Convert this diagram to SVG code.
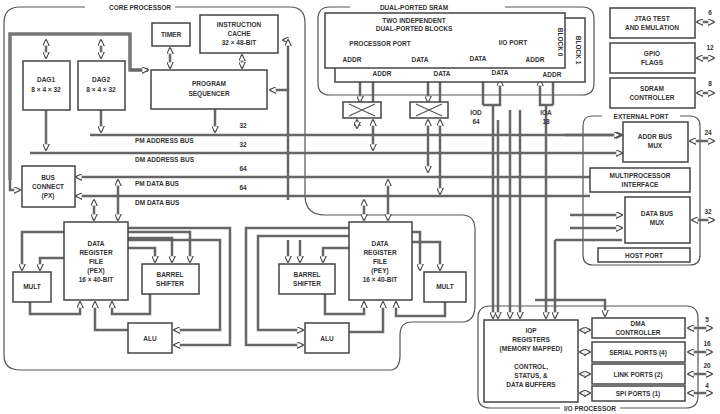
<svg xmlns="http://www.w3.org/2000/svg" width="720" height="414" viewBox="0 0 720 414">
<defs>
<marker id="a" viewBox="0 0 10 10" refX="9" refY="5" markerWidth="7" markerHeight="7" orient="auto-start-reverse" markerUnits="userSpaceOnUse"><path d="M0,0 L10,5 L0,10 Z" fill="#fff" stroke="#444" stroke-width="1.5"/></marker>
<style>
.b{fill:#fff;stroke:#444;stroke-width:1.5}
.o{fill:none;stroke:#555;stroke-width:1.2}
.t{font-family:"Liberation Sans",Arial,sans-serif;font-size:6.5px;font-weight:bold;fill:#333;text-anchor:middle}
.l{font-family:"Liberation Sans",Arial,sans-serif;font-size:6.5px;font-weight:bold;fill:#333}
.w{fill:none;stroke:#777;stroke-width:3.5}
.c{fill:none;stroke:#666;stroke-width:2.5;marker-end:url(#a)}
.d{fill:none;stroke:#666;stroke-width:2.5;marker-end:url(#a);marker-start:url(#a)}
</style>
</defs>
<rect width="720" height="414" fill="#fff"/>
<g id="outlines">
<path class="o" d="M85,7 H20 Q4,7 4,23 V355 Q4,370 20,370 H390 Q400,370 400,355 V335 Q400,322 412,322 H462 Q475,322 475,305 V230 Q475,215 462,215 H325 Q305,215 305,195 V23 Q305,7 290,7 H175"/>
<text class="t" x="140" y="10">CORE PROCESSOR</text>
<path class="o" d="M350,7 H330 Q318,7 318,19 V83 Q318,95 330,95 H582 Q594,95 594,83 V19 Q594,7 582,7 H505"/>
<text class="t" x="414" y="10">DUAL-PORTED SRAM</text>
<path class="o" d="M602,116 H592 Q583,116 583,126 V255 Q583,265 593,265 H690 Q700,265 700,255 V126 Q700,116 690,116 H680"/>
<text class="t" x="641" y="119">EXTERNAL PORT</text>
<path class="o" d="M560,408 H490 Q478,408 478,396 V318 Q478,306 490,306 H686 Q698,306 698,318 V396 Q698,408 686,408 H620"/>
<text class="t" x="590" y="411">I/O PROCESSOR</text>
</g>
<g id="connectors">
<path class="c" d="M90,135 H622"/><path class="c" d="M30,153 H622"/>
<path class="c" d="M590,177 H76"/><path class="c" d="M590,196 H76"/>
<path class="w" d="M10,180 V34 H130 V70 H148"/><path class="c" d="M10,180 V190 H20"/><path class="c" d="M130,70 H148"/>
<path class="d" d="M46,40 V58"/><path class="d" d="M101,40 V58"/>
<path class="c" d="M46,110 V150"/><path class="c" d="M101,110 V132"/>
<path class="d" d="M170,48 V68"/><path class="d" d="M242,55 V68"/>
<path class="c" d="M215,109 V132"/>
<path class="c" d="M288,200 V90 H270"/><path class="c" d="M288,40 H283"/>
<path class="c" d="M288,90 V40"/>
<path class="d" d="M360,102 V70 M373,102 V70"/>
<path class="d" d="M428,102 V70 M440,102 V70"/>
<path class="d" d="M357,120 V128"/><path class="d" d="M373,120 V150"/>
<path class="d" d="M428,120 V172"/><path class="d" d="M440,120 V194"/>
<path class="c" d="M483,105 V80 M483,105 H500 V80"/>
<path class="c" d="M553,105 V80 M553,105 H540 V80"/>
<path class="c" d="M493,105 V318"/><path class="c" d="M546,105 V318"/>
<path class="c" d="M565,135 H620"/>
<path class="d" d="M94,200 V220"/><path class="d" d="M118,180 V220"/>
<path class="d" d="M364,200 V220"/><path class="d" d="M388,180 V220"/>
<path class="c" d="M64,232 H22 V270"/><path class="c" d="M64,258 H40 V270"/>
<path class="c" d="M30,302 V314 H80 V302"/>
<path class="c" d="M128,248 H155 V262"/><path class="c" d="M128,238 H172 V262"/><path class="c" d="M128,232 H190 V262"/>
<path class="c" d="M150,294 V314 H112 V302"/><path class="c" d="M128,330 H95 V302"/>
<path class="c" d="M128,228 H230 V345 H174"/><path class="c" d="M128,240 H220 V330 H174"/>
<path class="c" d="M349,232 H420 V270"/><path class="c" d="M349,242 H440 V270"/>
<path class="c" d="M445,302 V316 H396 V302"/>
<path class="c" d="M349,248 H323 V262"/><path class="c" d="M300,240 V262"/><path class="c" d="M288,240 V262"/>
<path class="c" d="M349,332 H383 V302"/><path class="c" d="M325,294 V314 H364 V302"/>
<path class="c" d="M349,228 H246 V345 H303"/><path class="c" d="M349,236 H258 V330 H303"/>
<path class="c" d="M498,120 V318"/><path class="c" d="M510,110 V318"/><path class="c" d="M520,110 V318"/>
<path class="c" d="M570,215 H622"/><path class="c" d="M570,228 H622"/><path class="c" d="M555,240 H622 M555,240 V318"/>
<path class="c" d="M535,300 H605 V316"/>
<path class="d" d="M580,330 H590"/><path class="d" d="M580,352 H590"/><path class="d" d="M580,374 H590"/><path class="d" d="M580,393 H590"/>
<path class="d" d="M688,328 H712"/><path class="d" d="M688,352 H712"/><path class="d" d="M688,374 H712"/><path class="d" d="M688,393 H712"/>
<path class="d" d="M697,22 H714"/><path class="d" d="M697,58 H714"/><path class="d" d="M697,93 H714"/>
<path class="d" d="M690,141 H714"/><path class="d" d="M692,220 H714"/>
<text class="t" x="243" y="128">32</text><text class="t" x="243" y="147">32</text><text class="t" x="243" y="171">64</text><text class="t" x="243" y="190">64</text>
<text class="t" x="710" y="15">6</text><text class="t" x="710" y="50">12</text><text class="t" x="710" y="86">8</text>
<text class="t" x="708" y="135">24</text><text class="t" x="708" y="214">32</text>
<text class="t" x="707" y="322">5</text><text class="t" x="707" y="346">16</text><text class="t" x="707" y="368">20</text><text class="t" x="707" y="388">4</text>
<text class="l" x="135" y="143">PM ADDRESS BUS</text><text class="l" x="135" y="162">DM ADDRESS BUS</text>
<text class="l" x="135" y="186">PM DATA BUS</text><text class="l" x="135" y="205">DM DATA BUS</text>
<text class="t" x="476" y="115">IOD</text><text class="t" x="476" y="124">64</text>
<text class="t" x="546" y="115">IOA</text><text class="t" x="546" y="124">18</text>
</g>
<g id="sram">
<rect class="b" x="335" y="18" width="250" height="64"/>
<rect class="b" x="325" y="13" width="240" height="55"/>
<text class="t" x="414" y="23">TWO INDEPENDENT</text><text class="t" x="414" y="31">DUAL-PORTED BLOCKS</text>
<text class="t" x="380" y="46">PROCESSOR PORT</text><text class="t" x="513" y="45">I/O PORT</text>
<text class="t" x="352" y="62">ADDR</text><text class="t" x="420" y="62">DATA</text><text class="t" x="478" y="61">DATA</text><text class="t" x="535" y="62">ADDR</text>
<text class="t" x="382" y="76">ADDR</text><text class="t" x="442" y="76">DATA</text><text class="t" x="500" y="75">DATA</text><text class="t" x="552" y="77">ADDR</text>
<text class="t" transform="translate(558,42) rotate(90)">BLOCK 0</text>
<text class="t" transform="translate(576,50) rotate(90)">BLOCK 1</text>
</g>
<g id="xbar1"><rect class="b" x="343" y="102" width="38" height="16"/><path class="o" d="M349,104 L375,116 M349,116 L375,104"/></g>
<g id="xbar2"><rect class="b" x="410" y="102" width="38" height="16"/><path class="o" d="M416,104 L442,116 M416,116 L442,104"/></g>
<g id="timer"><rect class="b" x="152" y="23" width="38" height="23"/><text class="t" x="171" y="37">TIMER</text></g>
<g id="icache"><rect class="b" x="200" y="15" width="78" height="38"/><text class="t" x="239" y="27">INSTRUCTION</text><text class="t" x="239" y="36">CACHE</text><text class="t" x="239" y="45">32 × 48-BIT</text></g>
<g id="dag1"><rect class="b" x="23" y="61" width="47" height="49"/><text class="t" x="46" y="82">DAG1</text><text class="t" x="46" y="92">8 × 4 × 32</text></g>
<g id="dag2"><rect class="b" x="78" y="61" width="47" height="49"/><text class="t" x="101" y="82">DAG2</text><text class="t" x="101" y="92">8 × 4 × 32</text></g>
<g id="seq"><rect class="b" x="151" y="70" width="116" height="39"/><text class="t" x="209" y="86">PROGRAM</text><text class="t" x="209" y="96">SEQUENCER</text></g>
<g id="busconnect"><rect class="b" x="22" y="166" width="53" height="41"/><text class="t" x="48" y="180">BUS</text><text class="t" x="48" y="189">CONNECT</text><text class="t" x="48" y="198">(PX)</text></g>
<g id="pex"><rect class="b" x="64" y="222" width="64" height="78"/><text class="t" x="96" y="246">DATA</text><text class="t" x="96" y="255">REGISTER</text><text class="t" x="96" y="264">FILE</text><text class="t" x="96" y="273">(PEX)</text><text class="t" x="96" y="282">16 × 40-BIT</text></g>
<g id="multx"><rect class="b" x="13" y="272" width="38" height="30"/><text class="t" x="32" y="289">MULT</text></g>
<g id="bsx"><rect class="b" x="142" y="264" width="57" height="30"/><text class="t" x="170" y="277">BARREL</text><text class="t" x="170" y="286">SHIFTER</text></g>
<g id="alux"><rect class="b" x="128" y="323" width="44" height="30"/><text class="t" x="150" y="341">ALU</text></g>
<g id="pey"><rect class="b" x="349" y="222" width="63" height="78"/><text class="t" x="380" y="246">DATA</text><text class="t" x="380" y="255">REGISTER</text><text class="t" x="380" y="264">FILE</text><text class="t" x="380" y="273">(PEY)</text><text class="t" x="380" y="282">16 × 40-BIT</text></g>
<g id="bsy"><rect class="b" x="279" y="264" width="56" height="30"/><text class="t" x="307" y="277">BARREL</text><text class="t" x="307" y="286">SHIFTER</text></g>
<g id="aluy"><rect class="b" x="305" y="323" width="44" height="30"/><text class="t" x="327" y="341">ALU</text></g>
<g id="multy"><rect class="b" x="424" y="272" width="42" height="30"/><text class="t" x="445" y="289">MULT</text></g>
<g id="jtag"><rect class="b" x="610" y="8" width="85" height="30"/><text class="t" x="652" y="21">JTAG TEST</text><text class="t" x="652" y="30">AND EMULATION</text></g>
<g id="gpio"><rect class="b" x="610" y="43" width="85" height="30"/><text class="t" x="652" y="56">GPIO</text><text class="t" x="652" y="65">FLAGS</text></g>
<g id="sdram"><rect class="b" x="610" y="78" width="85" height="30"/><text class="t" x="652" y="91">SDRAM</text><text class="t" x="652" y="100">CONTROLLER</text></g>
<g id="addrmux"><rect class="b" x="623" y="122" width="65" height="40"/><text class="t" x="655" y="139">ADDR BUS</text><text class="t" x="655" y="148">MUX</text></g>
<g id="mpi"><rect class="b" x="590" y="168" width="100" height="24"/><text class="t" x="640" y="178">MULTIPROCESSOR</text><text class="t" x="640" y="187">INTERFACE</text></g>
<g id="datamux"><rect class="b" x="625" y="197" width="65" height="46"/><text class="t" x="657" y="216">DATA BUS</text><text class="t" x="657" y="225">MUX</text></g>
<g id="host"><rect class="b" x="598" y="248" width="92" height="14"/><text class="t" x="644" y="258">HOST PORT</text></g>
<g id="iop"><rect class="b" x="484" y="320" width="94" height="82"/><text class="t" x="531" y="333">IOP</text><text class="t" x="531" y="342">REGISTERS</text><text class="t" x="531" y="351">(MEMORY MAPPED)</text><text class="t" x="531" y="369">CONTROL,</text><text class="t" x="531" y="378">STATUS, &amp;</text><text class="t" x="531" y="387">DATA BUFFERS</text></g>
<g id="dma"><rect class="b" x="592" y="318" width="93" height="20"/><text class="t" x="638" y="326">DMA</text><text class="t" x="638" y="335">CONTROLLER</text></g>
<g id="serial"><rect class="b" x="592" y="342" width="93" height="20"/><text class="t" x="638" y="355">SERIAL PORTS (4)</text></g>
<g id="link"><rect class="b" x="592" y="364" width="93" height="20"/><text class="t" x="638" y="377">LINK PORTS (2)</text></g>
<g id="spi"><rect class="b" x="592" y="386" width="93" height="15"/><text class="t" x="638" y="396">SPI PORTS (1)</text></g>
</svg>
